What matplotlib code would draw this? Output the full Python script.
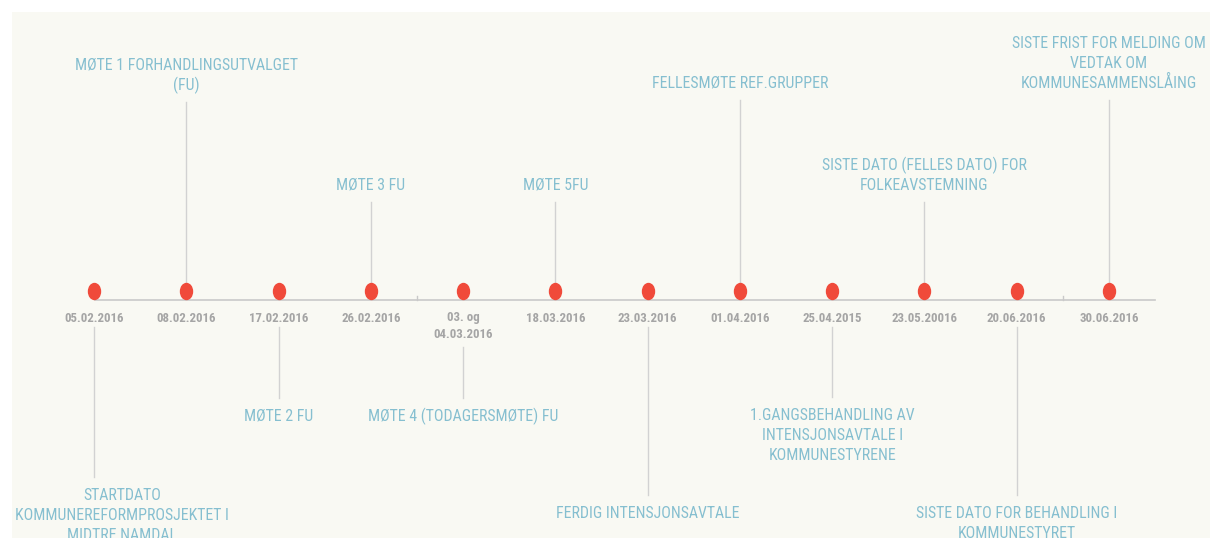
import matplotlib
matplotlib.use("Agg")
import matplotlib.pyplot as plt
from matplotlib import font_manager
from matplotlib.patches import Rectangle
from matplotlib.path import Path
from matplotlib.transforms import Affine2D

# data
datoer = ["05.02.2016", "08.02.2016", "17.02.2016", "26.02.2016", "03. og\n04.03.2016",
          "18.03.2016", "23.03.2016", "01.04.2016", "25.04.2015", "23.05.20016",
          "20.06.2016", "30.06.2016"]
hendelser = ["STARTDATO\nKOMMUNEREFORMPROSJEKTET I\nMIDTRE NAMDAL",
             "MØTE 1 FORHANDLINGSUTVALGET\n(FU)",
             "MØTE 2 FU",
             "MØTE 3 FU",
             "MØTE 4 (TODAGERSMØTE) FU",
             "MØTE 5FU",
             "FERDIG INTENSJONSAVTALE",
             "FELLESMØTE REF.GRUPPER",
             "1.GANGSBEHANDLING AV\nINTENSJONSAVTALE I\nKOMMUNESTYRENE",
             "SISTE DATO (FELLES DATO) FOR\nFOLKEAVSTEMNING",
             "SISTE DATO FOR BEHANDLING I\nKOMMUNESTYRET",
             "SISTE FRIST FOR MELDING OM\nVEDTAK OM\nKOMMUNESAMMENSLÅING"]
retning = [-1, 1, -1, 1, -1, 1, -1, 1, -1, 1, -1, 1]   # 1 = opp, -1 = ned
stengel = [477, 102, 398, 202, 398, 202, 495, 100, 397, 202, 495, 100]  # ende av strek (px)
skille = [3.5, 10.5]

# smal skrift hvis den finnes
navn = {f.name for f in font_manager.fontManager.ttflist}
font = "DejaVu Sans"
for kandidat in ["Liberation Sans Narrow", "Roboto Condensed", "Open Sans Condensed",
                 "Arial Narrow", "Roboto", "Lato"]:
    if kandidat in navn:
        font = kandidat
        break

W, H = 1215, 538
fig = plt.figure(figsize=(W / 100, H / 100), dpi=100, facecolor="white")
ax = fig.add_axes([0, 0, 1, 1])
ax.set_facecolor("none")
steg = 92.27
x0 = 94
ax.set_xlim(-x0 / steg, (W - x0) / steg)
ax.set_ylim(H, 0)
ax.axis("off")

fig.patches.append(Rectangle((12 / W, 0), (1210 - 12) / W, (H - 12) / H,
                             transform=fig.transFigure, facecolor="#f9f9f3",
                             edgecolor="none", zorder=-10))

renderer = fig.canvas.get_renderer()


def bredde(tekst, size, **kw):
    t = fig.text(0, 0, tekst, fontsize=size, family=font, **kw)
    b = t.get_window_extent(renderer).width
    t.remove()
    return b


# skriftstørrelse som gir samme bredde som i bildet
str_blaa = 10 * 224 / bredde("MØTE 1 FORHANDLINGSUTVALGET", 10)
str_dato = 10 * 60 / bredde("05.02.2016", 10, fontweight="bold")

blaa = "#86bfd0"
graa = "#a5a5a5"
linje_y = 300
prikk_y = 291

ax.plot([0.01, 11.5], [linje_y, linje_y], color="#c9c9c9", lw=1.2, zorder=1)
for s in skille:
    ax.plot([s, s], [linje_y - 4, linje_y], color="#c9c9c9", lw=1, zorder=1)

# oval prikk
oval = Path.unit_circle().transformed(Affine2D().scale(0.75, 1.0))

for i, (d, tekst, r, s) in enumerate(zip(datoer, hendelser, retning, stengel)):
    dlinjer = d.split("\n")
    for k, dl in enumerate(dlinjer):
        ax.text(i, 318 + 16 * k, dl, ha="center", va="center", color=graa,
                fontsize=str_dato, fontweight="bold", family=font)
    linjer = tekst.split("\n")
    # hold teksten innenfor panelet
    b = max(bredde(tl, str_blaa) for tl in linjer)
    sx = x0 + steg * i
    sx = max(sx, 15 + b / 2)
    sx = min(sx, 1208 - b / 2)
    tx = (sx - x0) / steg
    if r == 1:
        ax.plot([i, i], [s, prikk_y], color="#d2d2d2", lw=1, zorder=2)
        n = len(linjer)
        ys = [s - 17 - 20 * (n - 1 - k) for k in range(n)]
    else:
        start = 327 + 20 * (len(dlinjer) - 1)
        ax.plot([i, i], [start, s], color="#d2d2d2", lw=1, zorder=2)
        ys = [s + 18 + 20 * k for k in range(len(linjer))]
    for tl, y in zip(linjer, ys):
        ax.text(tx, y, tl, ha="center", va="center", color=blaa,
                fontsize=str_blaa, family=font)

ax.plot(range(len(datoer)), [prikk_y] * len(datoer), linestyle="none",
        marker=oval, markersize=11.5, color="#f04a3a", zorder=3)

fig.savefig("out.png", dpi=100, facecolor="white")
